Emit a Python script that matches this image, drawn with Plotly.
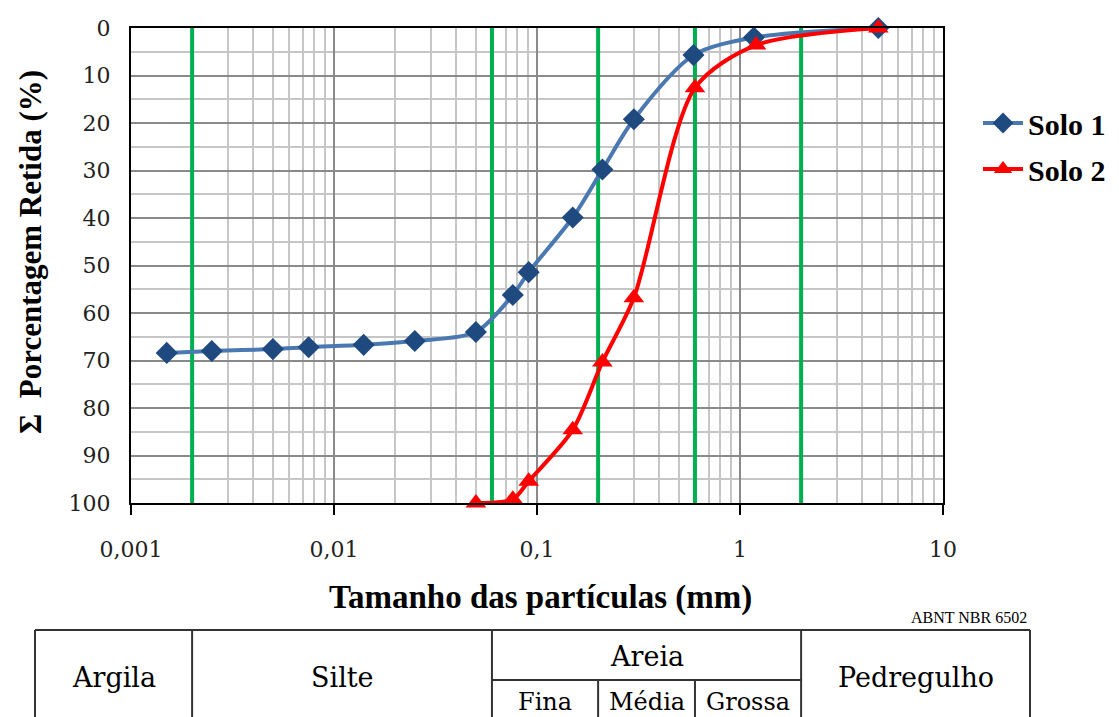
import math
import plotly.graph_objects as go

# ---------------- data ----------------
solo1_x = [0.0015, 0.0025, 0.005, 0.0075, 0.014, 0.025, 0.05, 0.076, 0.091, 0.15, 0.21, 0.30, 0.59, 1.17, 4.8]
solo1_y = [68.4, 68.0, 67.6, 67.2, 66.7, 65.9, 64.0, 56.2, 51.4, 39.9, 29.8, 19.2, 5.7, 2.0, 0.0]
solo2_x = [0.05, 0.076, 0.091, 0.15, 0.21, 0.30, 0.60, 1.2, 4.8]
solo2_y = [100.0, 99.2, 95.4, 84.6, 70.3, 56.8, 12.6, 3.6, 0.0]

# ABNT NBR 6502 limits (mm)
limits = [0.002, 0.06, 0.2, 0.6, 2.0]

x_tickvals = [0.001, 0.01, 0.1, 1, 10]
x_ticktext = ["0,001", "0,01", "0,1", "1", "10"]
y_tickvals = list(range(0, 101, 10))
x_minor = [m * 10 ** e for e in range(-3, 1) for m in range(2, 10)]

classes_main = ["Argila", "Silte", "Pedregulho"]
class_sand = "Areia"
sand_sub = ["Fina", "Média", "Grossa"]

TICK_FONT = dict(family="DejaVu Serif", size=22, color="#222222")
BOLD_SERIF = "Liberation Serif"

fig = go.Figure()

# green classification lines
for v in limits:
    fig.add_trace(go.Scatter(x=[v, v], y=[0, 100], mode="lines",
                             line=dict(color="#00B050", width=4),
                             showlegend=False, hoverinfo="skip"))

fig.add_trace(go.Scatter(
    x=solo1_x, y=solo1_y, name="Solo 1", mode="lines+markers", legendgroup="s1",
    line=dict(color="#4A78B0", width=4, shape="spline", smoothing=0.8),
    marker=dict(symbol="diamond", size=17, color="#1F4A80", line=dict(width=0)),
    cliponaxis=False))
fig.add_trace(go.Scatter(
    x=solo2_x, y=solo2_y, name="Solo 2", mode="lines+markers", legendgroup="s2",
    line=dict(color="#FF0000", width=4, shape="spline", smoothing=0.8),
    marker=dict(symbol="triangle-up", size=18, color="#FF0000", line=dict(width=0)),
    cliponaxis=False))

# ---------------- layout ----------------
OFF = 8  # page body margin in the browser
W, H = 1119 - OFF, 717 - OFF
L, T = 131 - OFF, 28 - OFF
R, B = W - (943 - OFF), H - (503 - OFF)
pw, ph = W - L - R, H - T - B


def px_to_paper_x(px):
    return (px - OFF - L) / pw


def px_to_paper_y(py):
    return (H - B - (py - OFF)) / ph


def mm_to_paper_x(v):
    return (math.log10(v) + 3) / 4


fig.update_layout(
    width=W, height=H,
    margin=dict(l=L, r=R, t=T, b=B, autoexpand=False),
    plot_bgcolor="white", paper_bgcolor="white",
    xaxis=dict(
        type="log", range=[-3, 1],
        tickvals=x_tickvals, ticktext=x_ticktext,
        showgrid=True, gridcolor="#8a8a8a", gridwidth=1.5,
        minor=dict(tickvals=x_minor, showgrid=True, gridcolor="#c6c6c6", gridwidth=1.5, ticks=""),
        showline=True, linecolor="black", linewidth=2, mirror=True,
        ticks="outside", ticklen=10, tickwidth=2, tickcolor="black",
        ticklabelstandoff=16,
        tickfont=TICK_FONT, zeroline=False,
    ),
    yaxis=dict(
        range=[100, 0], tickvals=y_tickvals,
        showgrid=True, gridcolor="#8a8a8a", gridwidth=1.5,
        minor=dict(dtick=5, showgrid=True, gridcolor="#c6c6c6", gridwidth=1.5, ticks=""),
        showline=True, linecolor="black", linewidth=2, mirror=True,
        ticks="", ticklabelstandoff=14,
        tickfont=TICK_FONT, zeroline=False,
    ),
    legend=dict(
        x=px_to_paper_x(978), y=px_to_paper_y(97), xanchor="left", yanchor="top",
        font=dict(family=BOLD_SERIF, size=30, color="black", weight="bold"),
        bgcolor="rgba(0,0,0,0)", itemwidth=40, tracegroupgap=4,
    ),
    showlegend=True,
)

annotations = []
annotations.append(dict(
    text="<b>Tamanho das partículas (mm)</b>", x=px_to_paper_x(540), y=px_to_paper_y(597),
    xref="paper", yref="paper", showarrow=False, xanchor="center", yanchor="middle",
    font=dict(family=BOLD_SERIF, size=33, color="black")))
annotations.append(dict(
    text="<b>Σ  Porcentagem Retida (%)</b>", x=px_to_paper_x(30), y=px_to_paper_y(252),
    xref="paper", yref="paper", showarrow=False, textangle=-90, xanchor="center", yanchor="middle",
    font=dict(family=BOLD_SERIF, size=31, color="black")))
annotations.append(dict(
    text="ABNT NBR 6502", x=px_to_paper_x(1029), y=px_to_paper_y(617),
    xref="paper", yref="paper", showarrow=False, xanchor="right", yanchor="middle",
    font=dict(family="Liberation Serif", size=16, color="black")))

# ---------------- classification table ----------------
tbl_left = px_to_paper_x(35)
tbl_right = px_to_paper_x(1030)
tbl_top = px_to_paper_y(630)
tbl_mid = px_to_paper_y(680)
tbl_bot = px_to_paper_y(740)
bx = [mm_to_paper_x(v) for v in limits]

shapes = []
LINE = dict(color="#333333", width=2)
shapes.append(dict(type="line", xref="paper", yref="paper", x0=tbl_left, x1=tbl_right, y0=tbl_top, y1=tbl_top, line=LINE))
for xv in [tbl_left, bx[0], bx[1], bx[4], tbl_right]:
    shapes.append(dict(type="line", xref="paper", yref="paper", x0=xv, x1=xv, y0=tbl_top, y1=tbl_bot, line=LINE))
shapes.append(dict(type="line", xref="paper", yref="paper", x0=bx[1], x1=bx[4], y0=tbl_mid, y1=tbl_mid, line=LINE))
for xv in [bx[2], bx[3]]:
    shapes.append(dict(type="line", xref="paper", yref="paper", x0=xv, x1=xv, y0=tbl_mid, y1=tbl_bot, line=LINE))

TFONT = dict(family="DejaVu Serif", size=27, color="black")
row_y = px_to_paper_y(677)
main_cells = [(tbl_left, bx[0]), (bx[0], bx[1]), (bx[4], tbl_right)]
for name, (a, b) in zip(classes_main, main_cells):
    annotations.append(dict(text=name, x=(a + b) / 2, y=row_y, xref="paper", yref="paper",
                            xanchor="center", yanchor="middle", showarrow=False, font=TFONT))
annotations.append(dict(text=class_sand, x=(bx[1] + bx[4]) / 2, y=px_to_paper_y(656), xref="paper", yref="paper",
                        xanchor="center", yanchor="middle", showarrow=False, font=TFONT))
sub_cells = [(bx[1], bx[2]), (bx[2], bx[3]), (bx[3], bx[4])]
for name, (a, b) in zip(sand_sub, sub_cells):
    annotations.append(dict(text=name, x=(a + b) / 2, y=px_to_paper_y(702), xref="paper", yref="paper",
                            xanchor="center", yanchor="middle", showarrow=False,
                            font=dict(family="DejaVu Serif", size=24, color="black")))

fig.update_layout(annotations=annotations, shapes=shapes)

fig.write_html("out.html")
